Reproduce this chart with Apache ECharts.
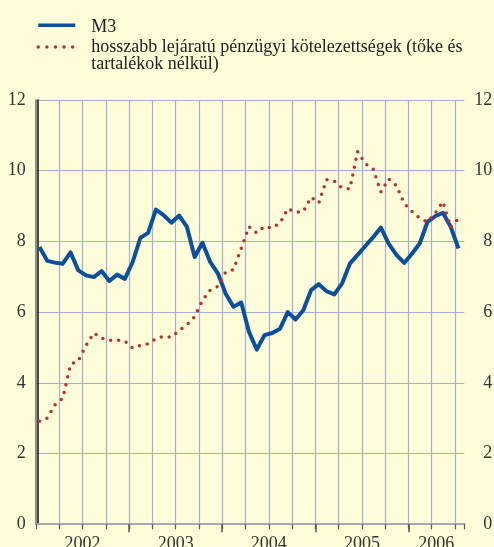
<!DOCTYPE html>
<html>
<head>
<meta charset="utf-8">
<script src="https://cdn.jsdelivr.net/npm/echarts@6/dist/echarts.min.js"></script>
<style>
  html, body { margin: 0; padding: 0; background: #fffdd9; }
  #chart { width: 494px; height: 547px; }
</style>
</head>
<body>
<div id="chart"></div>
<script>
// monthly data, 2002.01 - 2006.07
var months = [
  '2002.01','2002.02','2002.03','2002.04','2002.05','2002.06','2002.07','2002.08','2002.09','2002.10','2002.11','2002.12',
  '2003.01','2003.02','2003.03','2003.04','2003.05','2003.06','2003.07','2003.08','2003.09','2003.10','2003.11','2003.12',
  '2004.01','2004.02','2004.03','2004.04','2004.05','2004.06','2004.07','2004.08','2004.09','2004.10','2004.11','2004.12',
  '2005.01','2005.02','2005.03','2005.04','2005.05','2005.06','2005.07','2005.08','2005.09','2005.10','2005.11','2005.12',
  '2006.01','2006.02','2006.03','2006.04','2006.05','2006.06','2006.07'
]
var m3 = [
  7.84, 7.45, 7.40, 7.37, 7.69, 7.18, 7.04, 6.99, 7.16, 6.88, 7.06, 6.94,
  7.41, 8.10, 8.24, 8.90, 8.74, 8.53, 8.73, 8.41, 7.56, 7.96, 7.42, 7.09,
  6.52, 6.15, 6.27, 5.44, 4.94, 5.35, 5.41, 5.53, 6.00, 5.79, 6.05, 6.62,
  6.79, 6.59, 6.50, 6.81, 7.37, 7.62, 7.87, 8.12, 8.39, 7.94, 7.62, 7.39,
  7.65, 7.94, 8.55, 8.71, 8.81, 8.41, 7.80
]
var longTerm = [
  2.91, 3.00, 3.38, 3.56, 4.52, 4.62, 5.06, 5.41, 5.26, 5.20, 5.21, 5.18,
  4.98, 5.06, 5.10, 5.25, 5.32, 5.29, 5.48, 5.64, 5.87, 6.33, 6.62, 6.73,
  7.13, 7.20, 7.80, 8.42, 8.24, 8.42, 8.38, 8.52, 8.93, 8.83, 8.84, 9.25,
  9.09, 9.75, 9.70, 9.51, 9.48, 10.54, 10.20, 10.05, 9.40, 9.77, 9.58, 9.08,
  8.85, 8.66, 8.55, 8.80, 9.12, 8.40, 8.65
]
var years = ['2002', '2003', '2004', '2005', '2006']
var yearMid = [6, 18, 30, 42, 51.6]   // label positions (months from 2002 Jan)
var yearStarts = [12, 24, 36, 48]

var nameM3 = 'M3'
var nameLong = 'hosszabb lejáratú pénzügyi kötelezettségek (tőke és\ntartalékok nélkül)'

var font = 'Liberation Serif'
var gridColor = '#a3afd9'
var blue = '#0b509e'
var red = '#b3352e'
var xMax = 55.2

function toPoints(arr) {
  return arr.map(function (v, i) { return [i + 0.45, v] })
}

var chart = echarts.init(document.getElementById('chart'))
chart.setOption({
  animation: false,
  backgroundColor: '#fffdd9',
  textStyle: { fontFamily: font },
  legend: [{
    data: [nameM3],
    orient: 'vertical',
    left: 36.5,
    top: 13.7,
    padding: 0,
    itemWidth: 37,
    itemHeight: 14,
    itemStyle: { opacity: 0, borderWidth: 0 },
    lineStyle: { width: 3.5 },
    // leading empty line pushes the text a little below the icon
    formatter: function (name) { return '\n' + name },
    textStyle: { fontFamily: font, fontSize: 18, color: '#222', lineHeight: 5, padding: [0, 0, 0, 11] }
  }, {
    data: [nameLong],
    orient: 'vertical',
    left: 36.5,
    top: 20.3,
    padding: 0,
    itemWidth: 37,
    itemHeight: 14,
    itemStyle: { opacity: 0, borderWidth: 0 },
    lineStyle: { width: 3.5, type: [0, 8.6], cap: 'round', color: red },
    formatter: function (name) { return '\n' + name },
    textStyle: { fontFamily: font, fontSize: 18, color: '#222', lineHeight: 17.6, padding: [0, 0, 0, 11] }
  }],
  grid: { left: 36, top: 100, right: 29.7, bottom: 22.8, containLabel: false, outerBoundsMode: 'none' },
  xAxis: [{
    type: 'value',
    min: 0,
    max: xMax,
    interval: 3,
    axisLine: { show: true, onZero: false, lineStyle: { color: '#555', width: 1.5 } },
    axisTick: { show: true, length: 5, lineStyle: { color: '#555', width: 1.2 } },
    axisLabel: { show: false },
    splitLine: { show: true, showMinLine: false, showMaxLine: false, lineStyle: { color: gridColor, width: 1.2 } }
  }, {
    type: 'value',
    position: 'bottom',
    min: 0,
    max: xMax,
    axisLine: { show: false },
    axisTick: { show: true, customValues: yearStarts, length: 8, lineStyle: { color: '#555', width: 1.5 } },
    axisLabel: {
      customValues: yearMid,
      margin: 11,
      fontFamily: font,
      fontSize: 18,
      color: '#333',
      formatter: function (v) { return years[yearMid.indexOf(v)] }
    },
    splitLine: { show: false }
  }, {
    type: 'value',
    position: 'top',
    min: 0,
    max: xMax,
    axisLine: { show: true, lineStyle: { color: '#b7bac6', width: 1.5 } },
    axisTick: { show: false },
    axisLabel: { show: false },
    splitLine: { show: false }
  }],
  yAxis: [{
    type: 'value',
    position: 'left',
    offset: -1.7,
    min: 0,
    max: 12,
    interval: 2,
    axisLine: { show: true, lineStyle: { color: '#111', width: 1.5 } },
    axisTick: { show: false },
    axisLabel: { margin: 12, fontFamily: font, fontSize: 18, color: '#333' },
    splitLine: { show: true, lineStyle: { color: gridColor, width: 1.2 } }
  }, {
    type: 'value',
    position: 'right',
    min: 0,
    max: 12,
    interval: 2,
    axisLine: { show: true, lineStyle: { color: '#6a6a6a', width: 1.5 } },
    axisTick: { show: false },
    axisLabel: { margin: 28, align: 'right', fontFamily: font, fontSize: 18, color: '#333' },
    splitLine: { show: false }
  }],
  series: [{
    name: nameM3,
    type: 'line',
    symbol: 'none',
    data: toPoints(m3),
    lineStyle: { color: blue, width: 4, join: 'round' },
    itemStyle: { color: blue }
  }, {
    name: nameLong,
    type: 'line',
    symbol: 'none',
    data: toPoints(longTerm),
    lineStyle: { color: red, width: 3.5, type: [0, 8], cap: 'round' },
    itemStyle: { color: red }
  }]
})
</script>
</body>
</html>
